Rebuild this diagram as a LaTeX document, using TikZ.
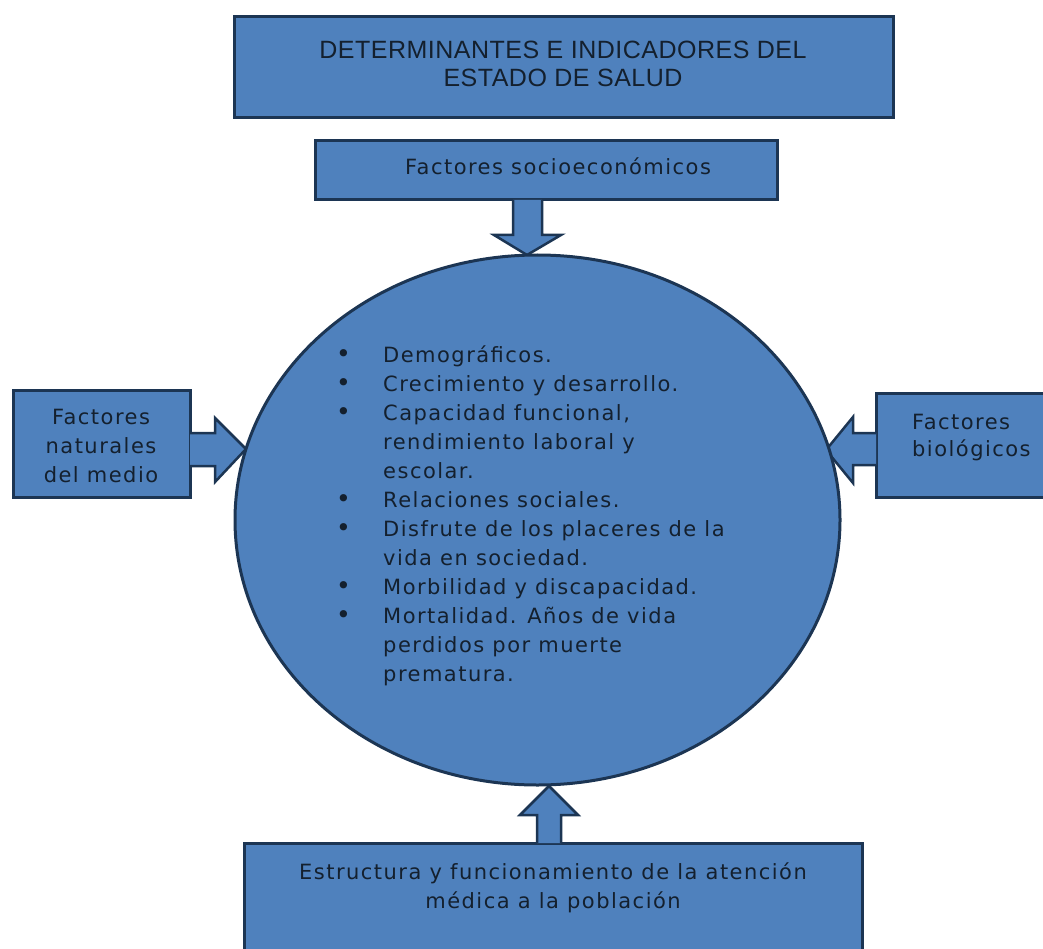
\documentclass[tikz,border=0pt]{standalone}
\usetikzlibrary{shapes.geometric}
\usepackage{fontspec}
\setmainfont[LetterSpace=7]{DejaVu Sans}
\newfontfamily\titlefont[LetterSpace=2]{Liberation Sans}
\definecolor{boxfill}{HTML}{4F81BD}
\definecolor{boxline}{HTML}{1C3553}
\definecolor{txt}{HTML}{14202E}
\newcommand{\bul}{{\fontsize{25}{29}\selectfont •}}
\begin{document}
\begin{tikzpicture}[x=1pt,y=-1pt,
  blk/.style={draw=boxline,fill=boxfill,line width=3pt},
  lbl/.style={text=txt,inner sep=0pt,font=\fontsize{21}{29}\selectfont}]
\useasboundingbox (0,0) rectangle (1043,949);
% boxes
\draw[blk] (234,17) rectangle (893,118);
\draw[blk] (315,141) rectangle (777,200);
\draw[blk] (13,390) rectangle (190,497);
\draw[blk] (876,393) rectangle (1050,497);
\draw[blk] (244,843) rectangle (862,960);
% arrows
\draw[blk,line width=2.5pt,line join=miter] (513,200) -- (513,235) -- (494,235) -- (527,255) -- (561,235) -- (542,235) -- (542,200);
\draw[blk,line width=2.5pt,line join=miter] (190,433) -- (215,433) -- (215,418) -- (246,449) -- (215,482) -- (215,466) -- (190,466);
\draw[blk,line width=2.5pt,line join=miter] (876,433) -- (853,433) -- (853,417) -- (826,450) -- (853,483) -- (853,465) -- (876,465);
\draw[blk,line width=2.5pt,line join=miter] (537,843) -- (537,815) -- (520,815) -- (549,786) -- (578,815) -- (561,815) -- (561,843);
% circle
\node[blk,ellipse,minimum width=605pt,minimum height=530pt,inner sep=0pt] (c) at (537.5,520) {};
% texts
\node[lbl,font=\titlefont\fontsize{25}{28}\selectfont,align=center] (t) at (563,64) {DETERMINANTES E INDICADORES DEL\\ESTADO DE SALUD};
\node[lbl] (s) at (558,166) {Factores socioeconómicos};
\node[lbl,align=center] (l) at (101,446) {Factores\\naturales\\del medio};
\node[lbl,align=left,anchor=west] (r) at (912,438) {Factores\\[-2pt]biológicos};
\node[lbl,align=center] (b) at (553,888) {Estructura y funcionamiento de la atención\\médica a la población};
\node[lbl,anchor=north west] (list) at (336,342) {%
\begin{tabular}{@{}p{47pt}@{}l@{}}
\bul & Demográficos.\\
\bul & Crecimiento y desarrollo.\\
\bul & Capacidad funcional,\\
  & rendimiento laboral y\\
  & escolar.\\
\bul & Relaciones sociales.\\
\bul & Disfrute de los placeres de la\\
  & vida en sociedad.\\
\bul & Morbilidad y discapacidad.\\
\bul & Mortalidad. Años de vida\\
  & perdidos por muerte\\
  & prematura.
\end{tabular}};
\end{tikzpicture}
\end{document}
